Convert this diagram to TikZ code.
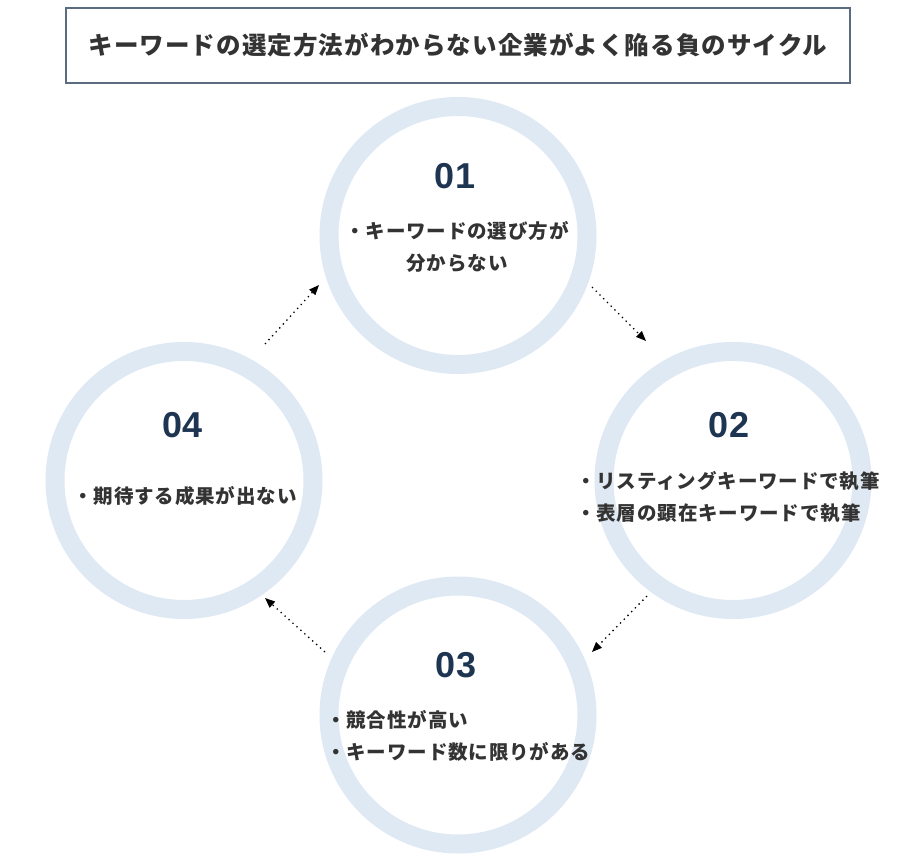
\documentclass[tikz,border=0pt]{standalone}
\usepackage{fontspec}
\setmainfont{Noto Sans CJK JP}
\usetikzlibrary{arrows.meta}
\definecolor{ringc}{HTML}{DFE9F4}
\definecolor{navy}{HTML}{1E3552}
\definecolor{txt}{HTML}{333333}
\definecolor{boxc}{HTML}{5B6C80}
\tikzset{
  ring/.style={circle, draw=ringc, line width=19pt, minimum size=258pt, inner sep=0pt, outer sep=0pt},
  numlabel/.style={font=\fontsize{36}{36}\selectfont\bfseries\fontspec{Liberation Sans}, text=navy, inner sep=0pt},
  body/.style={font=\fontsize{19.5}{32}\selectfont\bfseries\addfontfeature{LetterSpace=4.5}, text=txt, inner sep=0pt},
  flow/.style={line width=1.3pt, dash pattern=on 1.3pt off 4pt, -{Triangle[length=10pt,width=8pt]}},
}
\begin{document}
\begin{tikzpicture}[x=1pt,y=-1pt]
\useasboundingbox (0,0) rectangle (904,864);
\fill[white] (0,0) rectangle (904,864);
% title
\node[draw=boxc, line width=1.3pt, minimum width=784pt, minimum height=75pt, inner sep=0pt,
      font=\fontsize{24.5}{26}\selectfont\bfseries\addfontfeature{LetterSpace=4.5}, text=txt] (title) at (458,45.5)
      {キーワードの選定方法がわからない企業がよく陥る負のサイクル};
% circles
\node[ring] (c1) at (458,235.5) {};
\node[ring] (c2) at (733,480.5) {};
\node[ring] (c3) at (458,715) {};
\node[ring] (c4) at (184,480.5) {};
% numbers
\node[numlabel] (n1) at (455,176) {01};
\node[numlabel] (n2) at (729,425) {02};
\node[numlabel] (n3) at (456,665) {03};
\node[numlabel] (n4) at (183,425) {04};
% texts
\node[body, align=center] (t1) at (457,247) {・キーワードの選び方が\\分からない};
\node[body, align=left, anchor=west] (t2) at (576,497) {・リスティングキーワードで執筆\\・表層の顕在キーワードで執筆};
\node[body, align=left, anchor=west] (t3) at (326,736) {・競合性が高い\\・キーワード数に限りがある};
\node[body] (t4) at (185,496) {・期待する成果が出ない};
% arrow coordinates
\coordinate (a1s) at (592,287);
\coordinate (a1e) at (646,341);
\coordinate (a2s) at (647,596);
\coordinate (a2e) at (592,652);
\coordinate (a3s) at (325,652);
\coordinate (a3e) at (265,598);
\coordinate (a4s) at (265,344);
\coordinate (a4e) at (319,285);
\draw[flow] (a1s) -- (a1e);
\draw[flow] (a2s) -- (a2e);
\draw[flow] (a3s) -- (a3e);
\draw[flow] (a4s) -- (a4e);
\end{tikzpicture}
\end{document}
